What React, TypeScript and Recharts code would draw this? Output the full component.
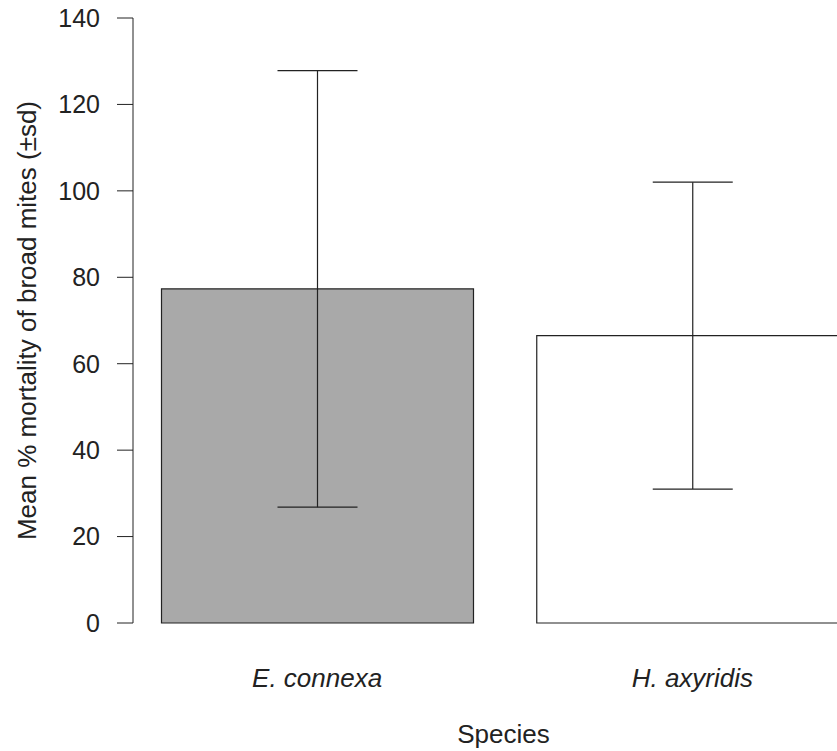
import React from "react";
import { BarChart, Bar, XAxis, YAxis, ErrorBar, Cell } from "recharts";

const categories = ["E. connexa", "H. axyridis"];
const means = [77.3, 66.5];
const sds = [50.5, 35.5];
const fills = ["#a9a9a9", "#ffffff"];
const yTicks = [0, 20, 40, 60, 80, 100, 120, 140];

const data = categories.map((name, i) => ({ name, mean: means[i], sd: sds[i] }));

const FONT = "'Liberation Sans', Arial, Helvetica, sans-serif";
const INK = "#222";

const renderYLabel = (props: any) => {
  const vb = props.viewBox || { x: 0, y: 18, width: 133, height: 605 };
  const cx = vb.x + 26.5;
  const cy = vb.y + vb.height / 2;
  return (
    <text
      transform={`translate(${cx}, ${cy}) rotate(-90)`}
      textAnchor="middle"
      dy="0.35em"
      fontSize={26}
      fontFamily={FONT}
      fill={INK}
    >
      Mean % mortality of broad mites (±sd)
    </text>
  );
};

const renderXLabel = (props: any) => {
  const vb = props.viewBox || { x: 133, y: 623, width: 747, height: 80 };
  return (
    <text
      x={vb.x + vb.width / 2 - 3}
      y={743}
      textAnchor="middle"
      fontSize={26}
      fontFamily={FONT}
      fill={INK}
    >
      Species
    </text>
  );
};

export default function App() {
  return (
    <div
      style={{
        position: "absolute",
        left: 0,
        top: 0,
        width: 837,
        height: 751,
        overflow: "hidden",
        background: "#fff",
      }}
    >
      <BarChart
        width={880}
        height={751}
        data={data}
        margin={{ top: 18, right: 0, bottom: 48, left: 0 }}
      >
        <XAxis
          dataKey="name"
          axisLine={false}
          tickLine={false}
          tickSize={0}
          tickMargin={46}
          height={80}
          padding={{ left: -3.5, right: 0 }}
          tick={{ fill: INK, fontSize: 26, fontFamily: FONT, fontStyle: "italic" }}
          label={{ content: renderXLabel }}
        />
        <YAxis
          width={133}
          domain={[0, 140]}
          ticks={yTicks}
          interval={0}
          tickSize={16}
          tickMargin={17}
          stroke={INK}
          tick={{ fill: INK, fontSize: 25, fontFamily: FONT }}
          label={{ content: renderYLabel }}
        />
        <Bar
          dataKey="mean"
          barSize={312}
          stroke={INK}
          strokeWidth={1.2}
          isAnimationActive={false}
        >
          {data.map((d, i) => (
            <Cell key={d.name} fill={fills[i]} />
          ))}
          <ErrorBar dataKey="sd" direction="y" width={40} stroke={INK} strokeWidth={1.2} />
        </Bar>
      </BarChart>
    </div>
  );
}
